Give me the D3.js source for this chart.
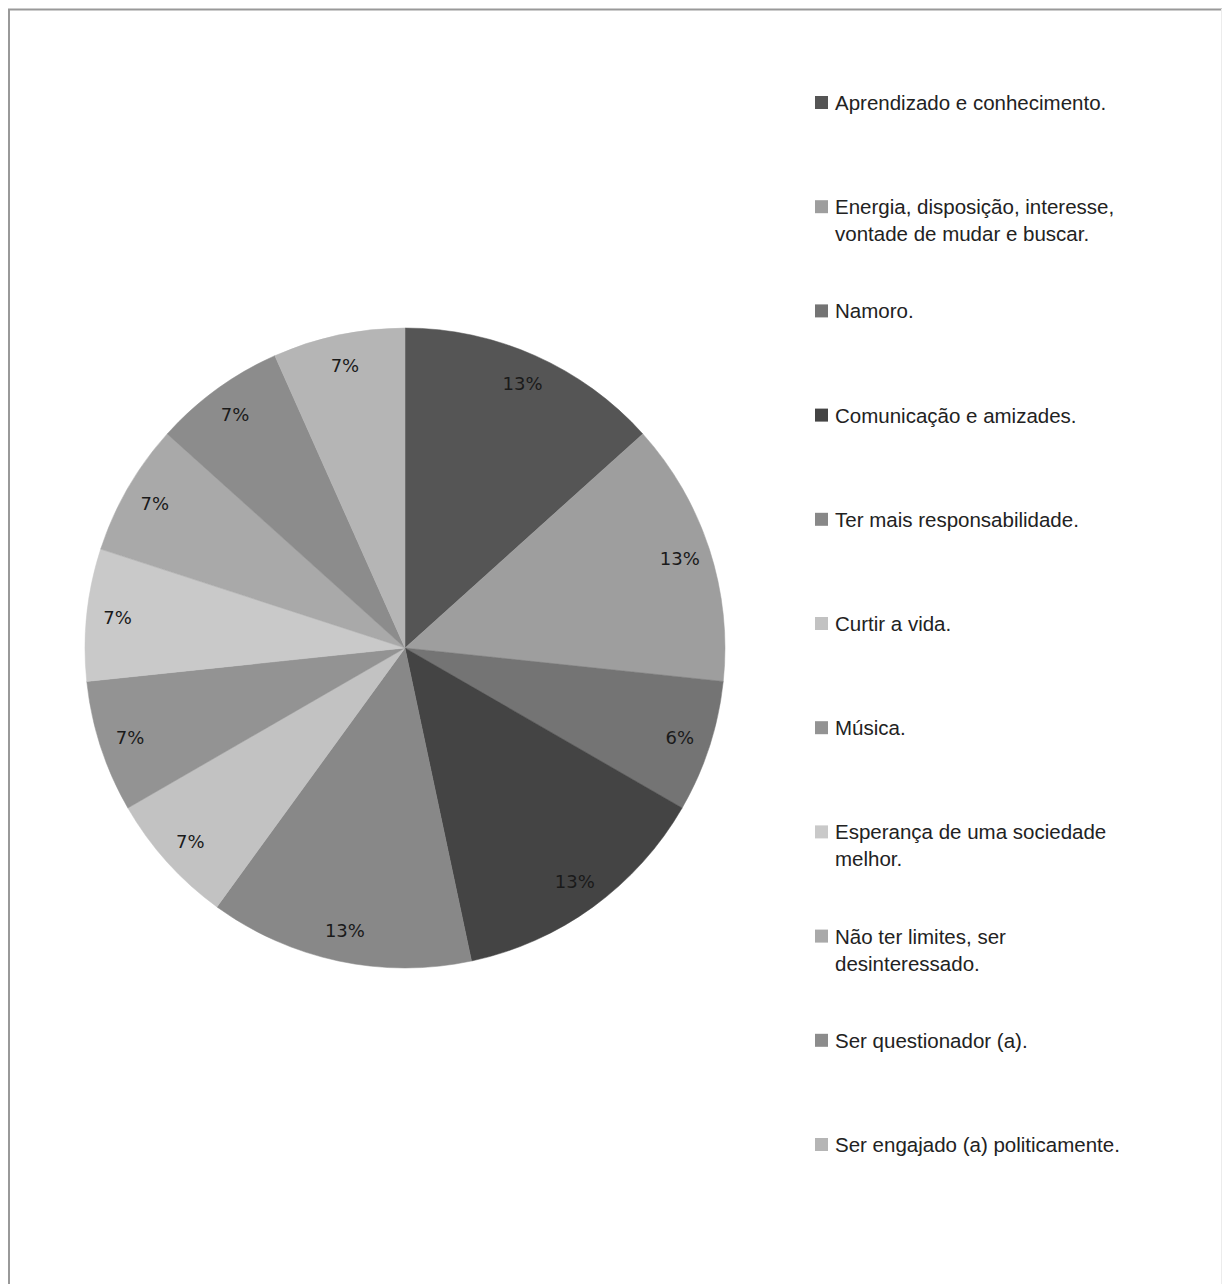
<!DOCTYPE html>
<html>
<head>
<meta charset="utf-8">
<script src="https://cdn.jsdelivr.net/npm/d3@7"></script>
<style>
  html, body { margin: 0; padding: 0; background: #fff; }
  svg { display: block; }
</style>
</head>
<body>
<svg id="chart" width="1226" height="1284"></svg>
<script>
// ---- data ----
const categories = [
  ["Aprendizado e conhecimento."],
  ["Energia, disposição, interesse,", "vontade de mudar e buscar."],
  ["Namoro."],
  ["Comunicação e amizades."],
  ["Ter mais responsabilidade."],
  ["Curtir a vida."],
  ["Música."],
  ["Esperança de uma sociedade", "melhor."],
  ["Não ter limites, ser", "desinteressado."],
  ["Ser questionador (a)."],
  ["Ser engajado (a) politicamente."]
];
const values = [2, 2, 1, 2, 2, 1, 1, 1, 1, 1, 1];
const percentLabels = ["13%", "13%", "6%", "13%", "13%", "7%", "7%", "7%", "7%", "7%", "7%"];
const colors = ["#555555", "#9e9e9e", "#747474", "#444444", "#888888", "#c2c2c2",
                "#939393", "#c9c9c9", "#a9a9a9", "#8c8c8c", "#b5b5b5"];

// ---- drawing ----
const svg = d3.select("#chart");

// outer frame: strong left/top edges, faint right edge
svg.append("line").attr("x1", 9).attr("y1", 9.5).attr("x2", 9).attr("y2", 1284)
  .attr("stroke", "#999").attr("stroke-width", 2);
svg.append("line").attr("x1", 8).attr("y1", 9.5).attr("x2", 1222).attr("y2", 9.5)
  .attr("stroke", "#999").attr("stroke-width", 2);
svg.append("line").attr("x1", 1221.5).attr("y1", 9).attr("x2", 1221.5).attr("y2", 1284)
  .attr("stroke", "#ececec").attr("stroke-width", 1);

const cx = 405, cy = 648, R = 320, labelR = 289;
const idx = d3.range(values.length);

const pie = d3.pie().sort(null).value(i => values[i]);
const arcs = pie(idx);
const arc = d3.arc().innerRadius(0).outerRadius(R);
const labelArc = d3.arc().innerRadius(labelR).outerRadius(labelR);

const g = svg.append("g").attr("transform", `translate(${cx},${cy})`);

g.selectAll("path.slice")
  .data(arcs)
  .join("path")
  .attr("class", "slice")
  .attr("d", arc)
  .attr("fill", d => colors[d.data])
  .attr("stroke", d => colors[d.data])
  .attr("stroke-width", 0.5);

g.selectAll("text.pct")
  .data(arcs)
  .join("text")
  .attr("class", "pct")
  .attr("transform", d => `translate(${labelArc.centroid(d)})`)
  .attr("text-anchor", "middle")
  .attr("dy", "0.35em")
  .attr("font-family", "DejaVu Sans, Verdana, sans-serif")
  .attr("font-size", 18)
  .attr("fill", "#1a1a1a")
  .text(d => percentLabels[d.data]);

// legend
const legendY = d3.scaleLinear().domain([0, categories.length - 1]).range([103, 1145]);
const legend = svg.append("g");
const items = legend.selectAll("g.item")
  .data(idx)
  .join("g")
  .attr("class", "item")
  .attr("transform", i => `translate(0,${legendY(i)})`);

items.append("rect")
  .attr("x", 815).attr("y", -7)
  .attr("width", 13).attr("height", 13)
  .attr("fill", i => colors[i]);

items.append("text")
  .attr("x", 835)
  .attr("y", 7)
  .attr("font-family", "Liberation Sans, Arial, sans-serif")
  .attr("font-size", 20.5)
  .attr("fill", "#222")
  .selectAll("tspan")
  .data(i => categories[i])
  .join("tspan")
  .attr("x", 835)
  .attr("dy", (d, j) => j === 0 ? 0 : 27)
  .text(d => d);
</script>
</body>
</html>
